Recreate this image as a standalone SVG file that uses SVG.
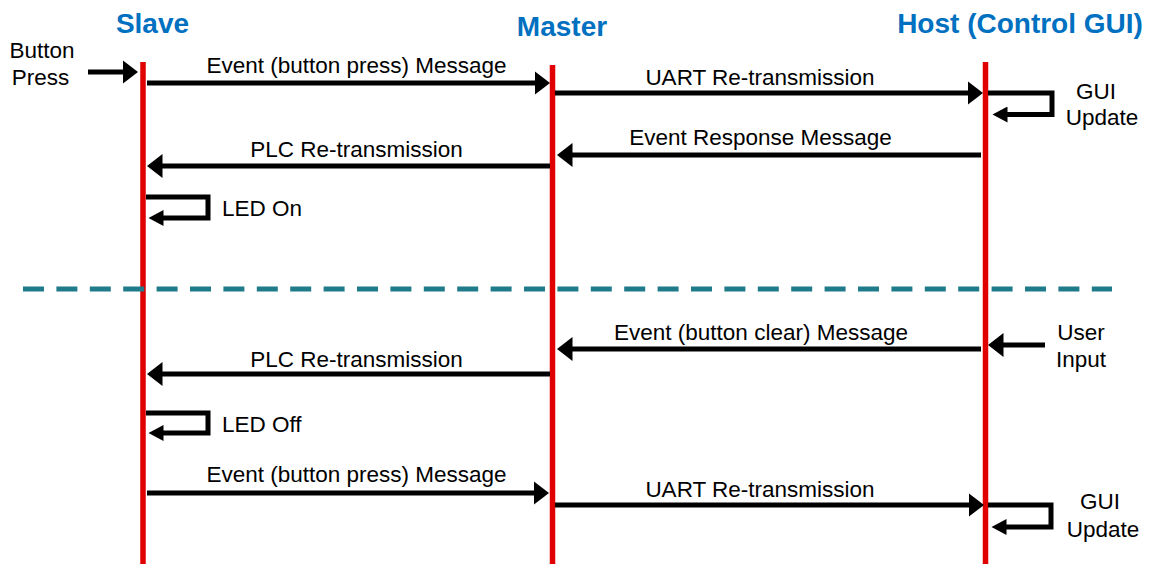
<svg xmlns="http://www.w3.org/2000/svg" width="1151" height="564" viewBox="0 0 1151 564">
<style>
.title{font-family:"Liberation Sans",Arial,sans-serif;font-weight:bold;font-size:28px;fill:#0070C0;text-anchor:middle}
.lbl{font-family:"Liberation Sans",Arial,sans-serif;font-size:22.5px;fill:#000;text-anchor:middle}
.lblL{font-family:"Liberation Sans",Arial,sans-serif;font-size:22.5px;fill:#000;text-anchor:start}
.life{stroke:#e00000;stroke-width:5.5;fill:none}
.msg{stroke:#000;stroke-width:5;fill:none;marker-end:url(#ah)}
.loop{stroke:#000;stroke-width:5;fill:none;marker-end:url(#ahs)}
.div{stroke:#1f7a8a;stroke-width:5;stroke-dasharray:21 12.4;fill:none}
</style>
<defs>
<marker id="ah" markerUnits="userSpaceOnUse" markerWidth="16" markerHeight="24" refX="0.5" refY="12" orient="auto" viewBox="0 0 16 24"><path d="M0,0 L15.5,12 L0,24 Z" fill="#000"/></marker>
<marker id="ahs" markerUnits="userSpaceOnUse" markerWidth="16" markerHeight="16" refX="0.5" refY="8" orient="auto" viewBox="0 0 16 16"><path d="M0,0 L15,8 L0,16 Z" fill="#000"/></marker>
</defs>
<rect width="1151" height="564" fill="#fff"/>
<g id="slave">
<text class="title" x="152.5" y="33">Slave</text>
<line class="life" x1="143" y1="62" x2="143" y2="564"/>
</g>
<g id="master">
<text class="title" x="562" y="36">Master</text>
<line class="life" x1="552.5" y1="65" x2="552.5" y2="564"/>
</g>
<g id="host">
<text class="title" x="1020" y="33">Host (Control GUI)</text>
<line class="life" x1="985.5" y1="62" x2="985.5" y2="564"/>
</g>
<g id="divider">
<line class="div" x1="23" y1="289" x2="1112" y2="289"/>
</g>
<g id="connectors">
<path class="msg" d="M88,72 H123"/>
<path class="msg" d="M147,83 H535"/>
<path class="msg" d="M555,93 H968"/>
<path class="loop" d="M988,93 H1052 V114.5 H1007"/>
<path class="msg" d="M981,155 H572"/>
<path class="msg" d="M550,166 H162"/>
<path class="loop" d="M146,197 H208 V218 H163"/>
<path class="msg" d="M1045,345 H1003"/>
<path class="msg" d="M981,349 H572"/>
<path class="msg" d="M550,374 H162"/>
<path class="loop" d="M146,413 H208 V433 H163"/>
<path class="msg" d="M147,493 H534"/>
<path class="msg" d="M555,505 H969"/>
<path class="loop" d="M988,505 H1051 V527 H1006"/>
</g>
<g id="labels">
<text class="lbl" x="42" y="58">Button</text>
<text class="lbl" x="40.5" y="85">Press</text>
<text class="lbl" x="356.5" y="73">Event (button press) Message</text>
<text class="lbl" x="760" y="85">UART Re-transmission</text>
<text class="lbl" x="1096" y="99">GUI</text>
<text class="lbl" x="1102" y="125">Update</text>
<text class="lbl" x="760.5" y="145">Event Response Message</text>
<text class="lbl" x="356.5" y="157">PLC Re-transmission</text>
<text class="lblL" x="222" y="216">LED On</text>
<text class="lbl" x="761" y="340">Event (button clear) Message</text>
<text class="lbl" x="1081" y="340">User</text>
<text class="lbl" x="1081" y="367">Input</text>
<text class="lbl" x="356.5" y="367">PLC Re-transmission</text>
<text class="lblL" x="222" y="432">LED Off</text>
<text class="lbl" x="356.5" y="482">Event (button press) Message</text>
<text class="lbl" x="760" y="497">UART Re-transmission</text>
<text class="lbl" x="1100" y="509">GUI</text>
<text class="lbl" x="1103" y="537">Update</text>
</g>
</svg>
